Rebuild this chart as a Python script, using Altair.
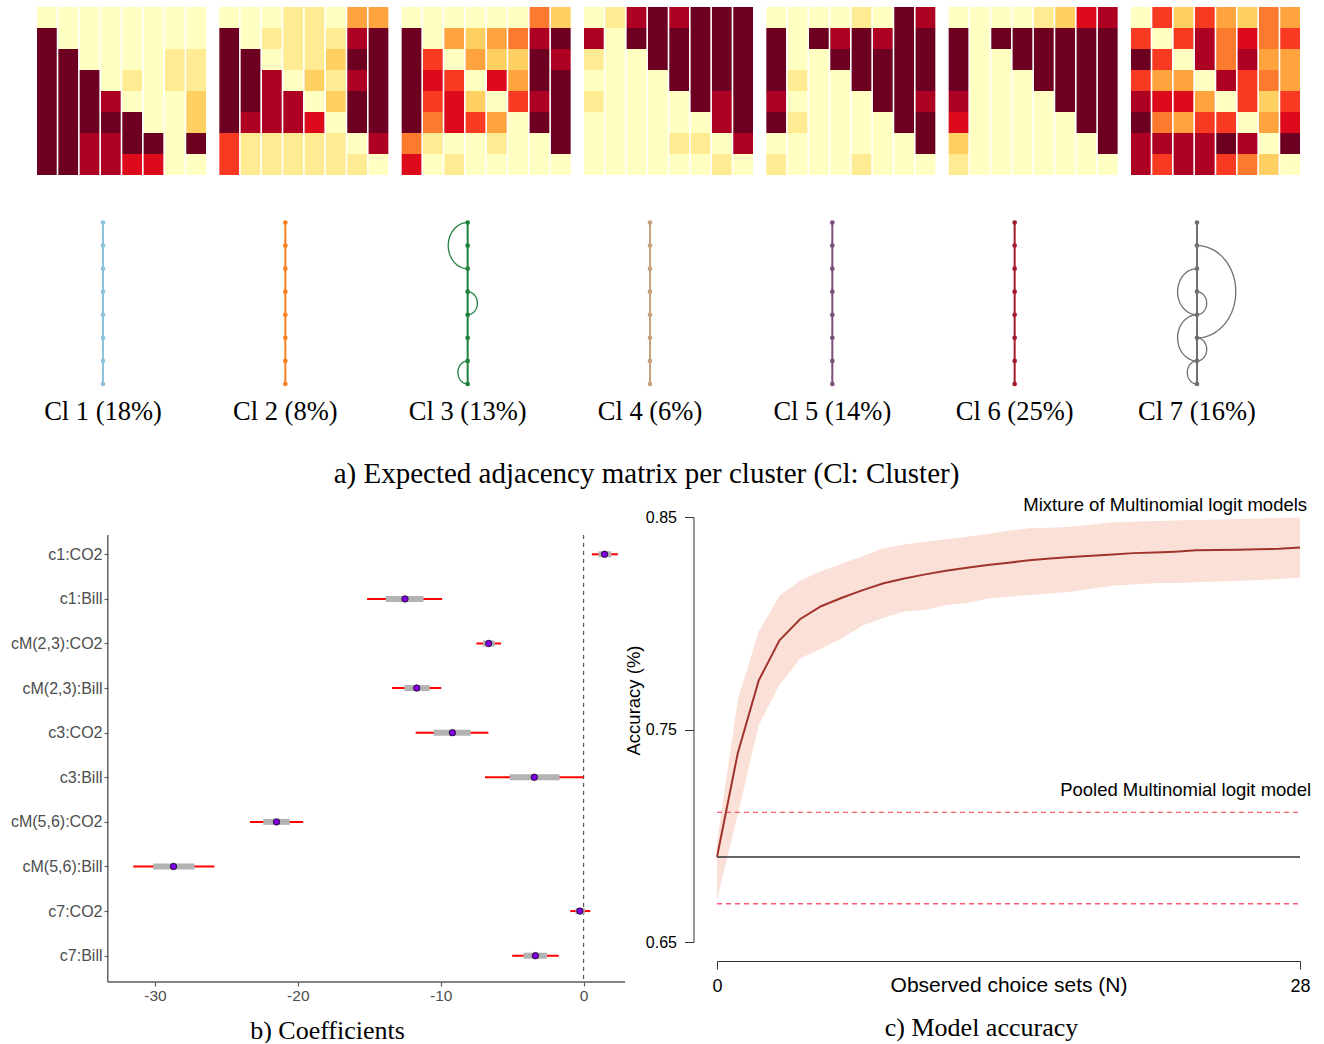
import json
import altair as alt
import numpy as np
import pandas as pd

# ---------------- data ----------------
PALETTE = ["#ffffc1", "#feeb92", "#fed062", "#fea33d", "#fc7a2e",
           "#f93a23", "#dc0a1a", "#ad0022", "#6d0020"]

CL1 = [[0,0,0,0,0,0,0,0],[8,0,0,0,0,0,0,0],[8,8,0,0,0,0,1,1],[8,8,8,0,1,0,1,1],
       [8,8,8,7,0,0,0,2],[8,8,8,8,8,0,0,2],[8,8,7,7,8,8,0,8],[8,8,7,7,6,6,0,0]]
CL2 = [[0,0,0,1,1,0,3,3],[8,0,1,1,1,1,7,8],[8,8,0,1,1,2,8,8],[8,8,7,0,2,1,7,8],
       [8,8,7,7,0,2,8,8],[8,7,7,7,6,0,8,8],[5,1,1,1,1,1,0,7],[5,1,1,1,1,1,1,0]]
CL3 = [[0,0,0,0,0,0,4,2],[8,0,3,2,3,4,7,8],[8,5,0,3,2,2,8,7],[8,6,5,0,6,3,8,8],
       [8,5,6,2,0,5,7,8],[8,4,6,5,3,0,8,8],[4,1,0,0,1,0,0,8],[6,0,1,0,0,0,0,0]]
CL4 = [[0,1,7,8,7,8,8,8],[7,0,8,8,8,8,8,8],[1,0,0,8,8,8,8,8],[0,0,0,0,8,8,8,8],
       [1,0,0,0,0,8,7,8],[0,0,0,0,0,0,7,8],[0,0,0,0,1,1,0,7],[0,0,0,0,0,0,1,0]]
CL5 = [[0,0,0,0,1,0,8,7],[8,0,8,7,8,7,8,8],[8,0,0,8,8,8,8,8],[8,1,0,0,8,8,8,8],
       [7,0,0,0,0,8,8,7],[8,1,0,0,0,0,8,8],[0,0,0,0,0,0,0,8],[1,0,0,0,1,0,0,0]]
CL6 = [[0,0,0,0,1,2,6,7],[8,0,8,8,8,8,8,8],[8,0,0,8,8,8,8,8],[8,0,0,0,8,8,8,8],
       [7,0,0,0,0,8,8,8],[6,0,0,0,0,0,8,8],[2,0,0,0,0,0,0,8],[1,0,0,0,0,0,0,0]]
CL7 = [[0,5,2,5,3,2,4,3],[5,0,5,7,4,6,4,5],[8,5,0,7,4,7,3,3],[5,3,3,0,7,5,4,3],
       [7,6,6,3,0,5,2,5],[8,4,3,5,5,0,3,6],[7,7,7,7,8,7,0,8],[7,5,7,7,5,4,2,0]]
MATRICES = [CL1, CL2, CL3, CL4, CL5, CL6, CL7]

CLUSTER_LABELS = ["Cl 1 (18%)", "Cl 2 (8%)", "Cl 3 (13%)", "Cl 4 (6%)",
                  "Cl 5 (14%)", "Cl 6 (25%)", "Cl 7 (16%)"]
CLUSTER_COLORS = ["#8fc3dd", "#f7811e", "#1f7f3d", "#c4a27e",
                  "#7b4f79", "#a3192b", "#707070"]
NODES = list(range(8))
# edges: (from node, to node, side: -1 left / +1 right)
CLUSTER_EDGES = [[], [], [(0, 2, -1), (3, 4, 1), (6, 7, -1)], [], [], [],
                 [(1, 5, 1), (2, 4, -1), (3, 4, 1), (4, 6, -1), (5, 6, 1), (6, 7, -1)]]
CAPTION_A = "a) Expected adjacency matrix per cluster (Cl: Cluster)"

COEF_NAMES = ["c1:CO2", "c1:Bill", "cM(2,3):CO2", "cM(2,3):Bill", "c3:CO2",
              "c3:Bill", "cM(5,6):CO2", "cM(5,6):Bill", "c7:CO2", "c7:Bill"]
COEF_EST = [1.47, -12.5, -6.64, -11.68, -9.18, -3.45, -21.49, -28.7, -0.26, -3.37]
COEF_LO95 = [0.58, -15.15, -7.5, -13.4, -11.75, -6.9, -23.35, -31.52, -0.93, -5.0]
COEF_HI95 = [2.4, -9.9, -5.78, -9.96, -6.66, 0.0, -19.63, -25.84, 0.47, -1.74]
COEF_LO50 = [1.05, -13.85, -7.04, -12.54, -10.49, -5.17, -22.42, -30.12, -0.56, -4.21]
COEF_HI50 = [1.94, -11.2, -6.22, -10.77, -7.9, -1.68, -20.56, -27.23, 0.09, -2.56]
COEF_X_TICKS = [-30, -20, -10, 0]
COEF_X_MIN = -33.3   # left end of the x axis line
COEF_X_MAX = 2.9

ACC_N = list(range(29))
ACC_MEAN = [0.690, 0.739, 0.773, 0.792, 0.802, 0.808, 0.812, 0.8156, 0.8188, 0.8211,
            0.823, 0.8247, 0.8261, 0.8274, 0.8285, 0.8296, 0.8305, 0.8312, 0.8318, 0.8324,
            0.8330, 0.8333, 0.8337, 0.8343, 0.8345, 0.8346, 0.8348, 0.8351, 0.8357]
ACC_LO = [0.670, 0.710, 0.752, 0.771, 0.7835, 0.788, 0.793, 0.799, 0.8026, 0.8055,
          0.8062, 0.8086, 0.8095, 0.8117, 0.8125, 0.8133, 0.8140, 0.8148, 0.8162, 0.8177,
          0.8182, 0.8188, 0.8190, 0.8193, 0.8196, 0.8199, 0.8203, 0.8208, 0.8214]
ACC_HI = [0.697, 0.764, 0.796, 0.813, 0.820, 0.8246, 0.828, 0.8316, 0.8353, 0.8371,
          0.8384, 0.8395, 0.8407, 0.8420, 0.8435, 0.8447, 0.8450, 0.8454, 0.8465, 0.8475,
          0.8478, 0.8481, 0.8483, 0.8486, 0.8488, 0.8491, 0.8493, 0.8495, 0.8497]
POOLED = 0.690
POOLED_LO = 0.668
POOLED_HI = 0.711

SERIF = "Liberation Serif"
SANS = "Liberation Sans"

# ---------------- top: heatmaps + graphs ----------------
HW = 169
HH = 168


def heatmap(mat):
    df = pd.DataFrame([{"row": r, "col": c, "level": v}
                       for r, row in enumerate(mat) for c, v in enumerate(row)])
    return alt.Chart(df).mark_rect().encode(
        x=alt.X("col:O", axis=None, scale=alt.Scale(paddingInner=0.075, paddingOuter=0)),
        y=alt.Y("row:O", axis=None, scale=alt.Scale(paddingInner=0, paddingOuter=0)),
        color=alt.Color("level:O", legend=None,
                        scale=alt.Scale(domain=list(range(9)), range=PALETTE)),
    ).properties(width=HW, height=HH)


def graph(i):
    color = CLUSTER_COLORS[i]
    xs = alt.Scale(domain=[-3.402, 5.309], nice=False, zero=False)
    ys = alt.Scale(domain=[-1.409, 8.994], reverse=True, nice=False, zero=False)
    nodes = pd.DataFrame({"x": [0] * len(NODES), "node": NODES})
    base = alt.Chart(nodes)
    line = base.mark_line(color=color, strokeWidth=2).encode(
        x=alt.X("x:Q", scale=xs, axis=None),
        y=alt.Y("node:Q", scale=ys, axis=None),
        order="node:Q")
    pts = base.mark_circle(color=color, size=22, opacity=1).encode(
        x=alt.X("x:Q", scale=xs, axis=None), y=alt.Y("node:Q", scale=ys, axis=None))
    layers = [line, pts]
    if CLUSTER_EDGES[i]:
        rows = []
        for k, (a, b, side) in enumerate(CLUSTER_EDGES[i]):
            c, r = (a + b) / 2, (b - a) / 2
            for t in np.linspace(-np.pi / 2, np.pi / 2, 41):
                rows.append({"edge": k, "t": float(t),
                             "ax": side * r * np.cos(t), "ay": c + r * np.sin(t)})
        arcs = alt.Chart(pd.DataFrame(rows)).mark_line(color=color, strokeWidth=1.3).encode(
            x=alt.X("ax:Q", scale=xs, axis=None), y=alt.Y("ay:Q", scale=ys, axis=None),
            detail="edge:N", order="t:Q")
        layers.append(arcs)
    lab = alt.Chart(pd.DataFrame({"label": [CLUSTER_LABELS[i]]})).mark_text(
        font=SERIF, fontSize=26.5, color="black", baseline="middle", align="center").encode(
        x=alt.datum(0), y=alt.datum(8.22), text="label:N")
    layers.append(lab)
    return alt.layer(*layers).properties(width=HW, height=240)


cols = [alt.vconcat(heatmap(MATRICES[i]), graph(i), spacing=15, bounds="flush")
        for i in range(7)]
top = alt.hconcat(*cols, spacing=13.33).properties(
    title=alt.TitleParams(CAPTION_A, orient="bottom", anchor="middle", font=SERIF,
                          fontSize=29, fontWeight="normal", color="black",
                          offset=30, dx=-22))

# ---------------- bottom-left: coefficients ----------------
coef_df = pd.DataFrame({"idx": list(range(len(COEF_NAMES))), "name": COEF_NAMES,
                        "est": COEF_EST, "lo95": COEF_LO95, "hi95": COEF_HI95,
                        "lo50": COEF_LO50, "hi50": COEF_HI50})
CW, CH = 588, 465
cxs = alt.Scale(domain=[-38.255, COEF_X_MAX], nice=False, zero=False)
cys = alt.Scale(domain=[-0.836, 9.59], reverse=True, nice=False, zero=False)
label_expr = "[" + ",".join(json.dumps(n) for n in COEF_NAMES) + "][datum.value]"
AX_GRAY = "#5a5a5a"
cbase = alt.Chart(coef_df)
red = cbase.mark_rule(color="#ff0000", strokeWidth=2).encode(
    x=alt.X("lo95:Q", scale=cxs, axis=alt.Axis(
        values=COEF_X_TICKS, labelExpr="'' + datum.value", title="b) Coefficients",
        grid=False, domain=False, tickColor=AX_GRAY, tickSize=4, tickWidth=1.2,
        labelFont=SANS, labelFontSize=15.5, labelColor="#4d4d4d", labelPadding=2,
        labelFlush=False, titleFont=SERIF, titleFontSize=26, titleFontWeight="normal",
        titleColor="black", titleX=290, titleY=48, titleAlign="center",
        titleBaseline="middle")),
    x2="hi95:Q",
    y=alt.Y("idx:Q", scale=cys, axis=alt.Axis(
        values=list(range(len(COEF_NAMES))), labelExpr=label_expr, title=None,
        domain=False, grid=False, offset=-71, tickColor=AX_GRAY, tickSize=4,
        tickWidth=1.2, labelFont=SANS, labelFontSize=16, labelColor="#4d4d4d",
        labelPadding=2)))
gray = cbase.mark_rule(color="#b3b3b3", strokeWidth=6).encode(
    x=alt.X("lo50:Q", scale=cxs), x2="hi50:Q", y=alt.Y("idx:Q", scale=cys))
dots = cbase.mark_circle(color="#8000e0", stroke="black", strokeWidth=0.7,
                         size=42, opacity=1).encode(
    x=alt.X("est:Q", scale=cxs), y=alt.Y("idx:Q", scale=cys))
one = pd.DataFrame({"a": [0]})
yaxis_line = alt.Chart(one).mark_rule(color=AX_GRAY, strokeWidth=1.4).encode(
    x=alt.datum(COEF_X_MIN), y=alt.datum(-0.43), y2=alt.value(CH))
xaxis_line = alt.Chart(one).mark_rule(color=AX_GRAY, strokeWidth=1.4).encode(
    x=alt.datum(COEF_X_MIN), x2=alt.value(CW), y=alt.value(CH))
zero_line = alt.Chart(one).mark_rule(color="#555555", strokeWidth=1.2,
                                     strokeDash=[4, 4]).encode(
    x=alt.datum(0), y=alt.datum(-0.43), y2=alt.value(CH))
coef = alt.layer(zero_line, red, gray, dots, yaxis_line, xaxis_line).properties(
    width=CW, height=CH)

# ---------------- bottom-right: accuracy ----------------
acc_df = pd.DataFrame({"N": ACC_N, "mean": ACC_MEAN, "lo": ACC_LO, "hi": ACC_HI})
axs = alt.Scale(domain=[0, 28], nice=False, zero=False)
ays = alt.Scale(domain=[0.65, 0.85], nice=False, zero=False)
abase = alt.Chart(acc_df)
band = abase.mark_area(color="#fbe0d7", opacity=1).encode(
    x=alt.X("N:Q", scale=axs, axis=alt.Axis(
        values=[0, 28], offset=19, tickSize=8, grid=False, domainColor="#333333",
        tickColor="#333333", labelFont=SANS, labelFontSize=18, labelColor="black",
        labelPadding=8, labelFlush=False, title="Observed choice sets (N)",
        titleFont=SANS, titleFontSize=21, titleFontWeight="normal", titleColor="black",
        titleY=24, titleBaseline="middle")),
    y=alt.Y("lo:Q", scale=ays, axis=alt.Axis(
        values=[0.65, 0.75, 0.85], format=".2f", offset=23.5, tickSize=9, grid=False,
        domainColor="#333333", tickColor="#333333", labelFont=SANS, labelFontSize=16,
        labelColor="black", labelPadding=8, labelFlush=False, title="Accuracy (%)",
        titleFont=SANS, titleFontSize=18.5, titleFontWeight="normal", titleColor="black",
        titleAngle=270, titleX=-60.5, titleY=183, titleAlign="center",
        titleBaseline="middle")),
    y2="hi:Q")
pooled_df = pd.DataFrame({"n0": [0, 0, 0], "n1": [28, 28, 28],
                          "v": [POOLED, POOLED_LO, POOLED_HI],
                          "kind": ["est", "ci", "ci"]})
pooled_est = alt.Chart(pooled_df[pooled_df.kind == "est"]).mark_rule(
    color="#333333", strokeWidth=1.3).encode(
    x=alt.X("n0:Q", scale=axs), x2="n1:Q", y=alt.Y("v:Q", scale=ays))
pooled_ci = alt.Chart(pooled_df[pooled_df.kind == "ci"]).mark_rule(
    color="#ff5a6e", strokeWidth=1.4, strokeDash=[5, 4]).encode(
    x=alt.X("n0:Q", scale=axs), x2="n1:Q", y=alt.Y("v:Q", scale=ays))
mix_line = abase.mark_line(color="#a0342c", strokeWidth=2).encode(
    x=alt.X("N:Q", scale=axs), y=alt.Y("mean:Q", scale=ays))
txt_df = pd.DataFrame({"N": [28.34, 28.53], "v": [0.8556, 0.7215],
                       "label": ["Mixture of Multinomial logit models",
                                 "Pooled Multinomial logit model"]})
texts = alt.Chart(txt_df).mark_text(font=SANS, fontSize=18.5, color="black",
                                    align="right", baseline="middle").encode(
    x=alt.X("N:Q", scale=axs), y=alt.Y("v:Q", scale=ays), text="label:N")
acc = alt.layer(band, pooled_ci, pooled_est, mix_line, texts).properties(
    width=583, height=425,
    title=alt.TitleParams("c) Model accuracy", orient="bottom", anchor="middle",
                          font=SERIF, fontSize=26, fontWeight="normal", color="black",
                          offset=20, dx=-27))

bottom = alt.hconcat(coef, acc, spacing=92, bounds="flush")

chart = alt.vconcat(top, bottom, spacing=7).properties(
    padding={"left": 10, "top": 7, "right": 0, "bottom": 0},
    background="white",
).configure_view(stroke=None).configure_axis(grid=False)

chart.save("out.html", embed_options={"renderer": "svg", "actions": False})
